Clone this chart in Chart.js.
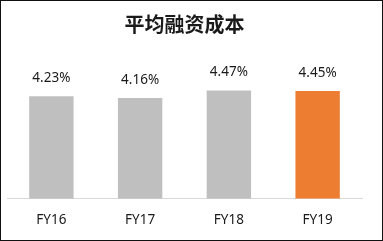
<!DOCTYPE html>
<html>
<head>
<meta charset="utf-8">
<script src="https://cdn.jsdelivr.net/npm/chart.js@4/dist/chart.umd.min.js"></script>
<style>
  html, body { margin: 0; padding: 0; background: #fff; }
  #box { width: 383px; height: 241px; box-sizing: border-box; border: 1px solid #111; position: relative; }
  #box canvas { display: block; }
</style>
</head>
<body>
<div id="box"><canvas id="cost" width="381" height="239"></canvas></div>
<script>
var labels = ["FY16", "FY17", "FY18", "FY19"];
var values = [4.23, 4.16, 4.47, 4.45];
var colors = ['#BFBFBF', '#BFBFBF', '#BFBFBF', '#ED7D31'];

// value labels above each bar
var valueLabels = {
  id: 'valueLabels',
  afterDatasetsDraw: function (chart) {
    var c = chart.ctx;
    var meta = chart.getDatasetMeta(0);
    c.save();
    c.font = '13.5px "Noto Sans", sans-serif';
    c.fillStyle = '#1a1a1a';
    c.textAlign = 'center';
    c.textBaseline = 'middle';
    meta.data.forEach(function (bar, i) {
      c.fillText(values[i].toFixed(2) + '%', bar.x, bar.y - 18);
    });
    c.restore();
  }
};

var ctx = document.getElementById("cost");
var costChart = new Chart(ctx, {
  type: 'bar',
  data: {
    labels: labels,
    datasets: [{
      data: values,
      backgroundColor: colors,
      categoryPercentage: 1,
      barPercentage: 0.5,
    }],
  },
  options: {
    responsive: false,
    animation: false,
    layout: { padding: { left: 6, right: 20, top: 0, bottom: 7 } },
    plugins: {
      legend: { display: false },
      tooltip: { enabled: false },
      title: {
        display: true,
        text: '平均融资成本',
        color: '#1a1a1a',
        font: { family: '"Noto Sans CJK SC", sans-serif', size: 20, weight: 'bold' },
        padding: { top: 11, bottom: 15 },
      },
    },
    scales: {
      x: {
        grid: { display: false },
        border: { color: '#D9D9D9', width: 1 },
        ticks: { color: '#1a1a1a', font: { family: '"Noto Sans", sans-serif', size: 13.5 }, padding: 5 },
      },
      y: { display: false, min: 0, max: 6.1 },
    },
  },
  plugins: [valueLabels],
});
</script>
</body>
</html>
